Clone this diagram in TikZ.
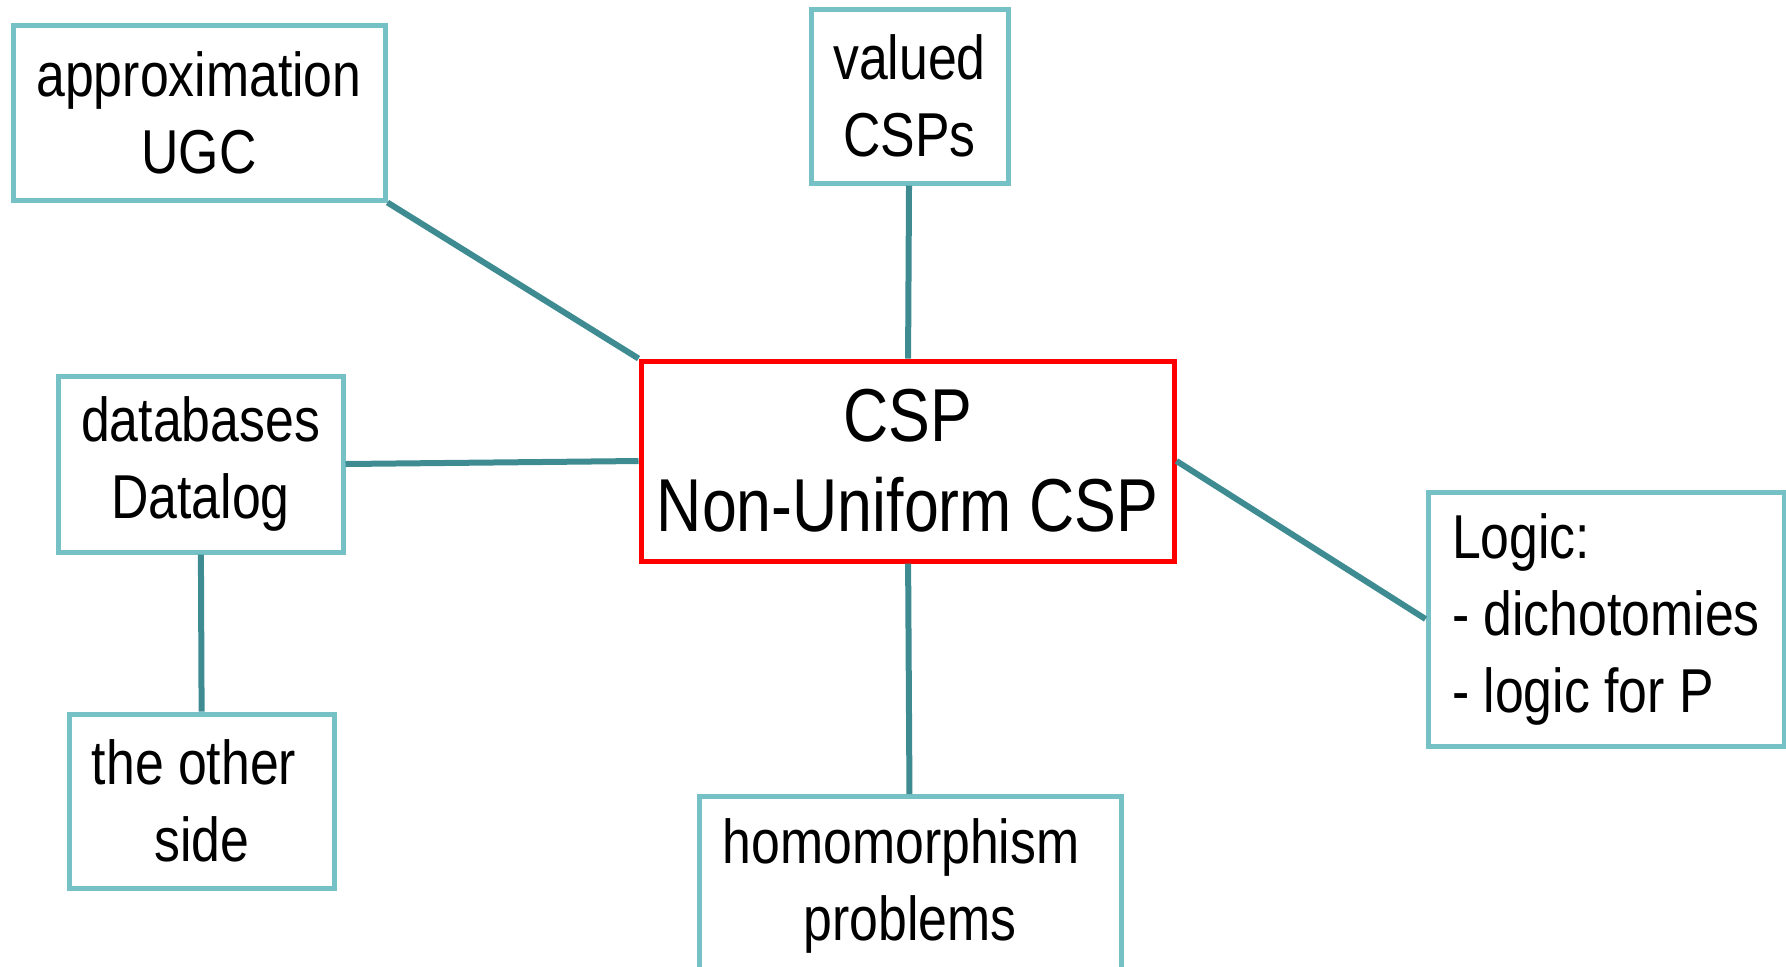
\documentclass[tikz,border=0pt]{standalone}
\usepackage{fontspec}
\setmainfont{Liberation Sans}[FakeStretch=0.835]
\definecolor{boxteal}{RGB}{117,193,198}
\definecolor{linkteal}{RGB}{62,140,146}
\definecolor{corered}{RGB}{255,0,0}
\begin{document}
\begin{tikzpicture}[x=0.5pt,y=-0.5pt,
	topic/.style={rectangle, draw=boxteal, line width=2.5pt, fill=white, align=center, inner sep=0pt,
		font=\fontsize{31}{38.5}\selectfont},
	core/.style={rectangle, draw=corered, line width=2.5pt, fill=white, align=center, inner sep=0pt,
		font=\fontsize{37.5}{45}\selectfont},
	link/.style={draw=linkteal, line width=3pt}]
	\clip (0,0) rectangle (1786,966);
	\node (approx) at ( 199, 112.5)	[topic, minimum width=186pt, minimum height=87.5pt]	{approximation\\UGC};
	\node (valued) at ( 909.5, 96)	[topic, minimum width=98.5pt, minimum height=87pt]	{valued\\CSPs};
	\node (core)   at ( 907.5, 461)	[core, minimum width=266.5pt, minimum height=100pt]	{CSP\\Non-Uniform CSP};
	\node (data)   at ( 200.5, 464)	[topic, minimum width=142.5pt, minimum height=88pt]	{databases\\Datalog};
	\node (other)  at ( 202, 801)	[topic, minimum width=132.5pt, minimum height=87pt]	{the other\hspace*{8pt}\\side};
	\node (homo)   at ( 910, 794)	[topic, anchor=north, minimum width=211pt, minimum height=89pt]	{homomorphism\hspace*{9pt}\\problems};
	\node (logic)  at (1606, 619)	[topic, minimum width=178pt, minimum height=127pt, align=left]	{Logic:\\- dichotomies\\- logic for P};
	\draw[link] (approx.south east) -- (core.north west);
	\draw[link] (valued) -- (core);
	\draw[link] (data.east) -- (core.west);
	\draw[link] (data) -- (other);
	\draw[link] (core) -- (homo);
	\draw[link] (core.east) -- (logic.west);
\end{tikzpicture}
\end{document}
